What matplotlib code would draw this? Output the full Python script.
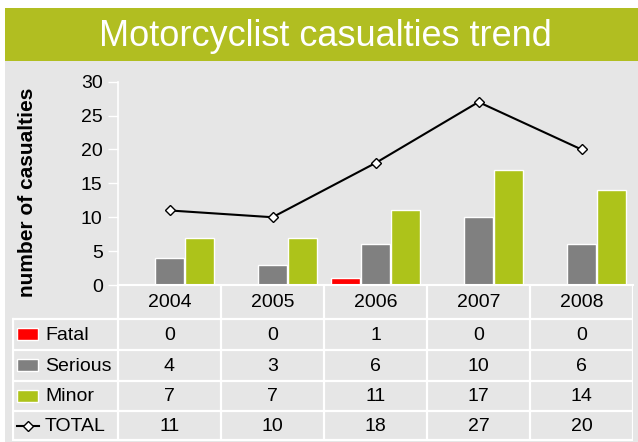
import matplotlib
matplotlib.use("Agg")
import matplotlib.pyplot as plt
from matplotlib.patches import Rectangle
import numpy as np

years = ["2004", "2005", "2006", "2007", "2008"]
fatal = [0, 0, 1, 0, 0]
serious = [4, 3, 6, 10, 6]
minor = [7, 7, 11, 17, 14]
total = [11, 10, 18, 27, 20]
yticks = [0, 5, 10, 15, 20, 25, 30]
title = "Motorcyclist casualties trend"
ylabel = "number of casualties"

W, H = 638, 442
BANNER = "#B1BE21"
PANEL = "#E6E6E6"
RED = "#FF0000"
GRAY = "#808080"
GREEN = "#ADC31A"

plt.rcParams["font.family"] = ["Liberation Sans", "DejaVu Sans"]

fig = plt.figure(figsize=(W / 100, H / 100), dpi=100, facecolor="white")


def box(x0, y0, x1, y1):
    return [x0 / W, 1 - y1 / H, (x1 - x0) / W, (y1 - y0) / H]


# background banner and panel
bg = fig.add_axes([0, 0, 1, 1])
bg.set_xlim(0, W)
bg.set_ylim(H, 0)
bg.axis("off")
bg.add_patch(Rectangle((5, 8), W - 5, 53, color=BANNER, lw=0))
bg.add_patch(Rectangle((5, 61), W - 5, H - 61, color=PANEL, lw=0))
bg.text(325, 36, title, color="white", fontsize=26, ha="center", va="center")
bg.text(28, 192, ylabel, rotation=90, fontsize=15, fontweight="bold",
        ha="center", va="center")

# main chart
ax = fig.add_axes(box(118, 81.7, 633, 285))
ax.patch.set_alpha(0)
x = np.arange(len(years))
bw = 0.28
off = 0.29
ax.bar(x - off, fatal, bw, color=RED, edgecolor="white", linewidth=1)
ax.bar(x, serious, bw, color=GRAY, edgecolor="white", linewidth=1)
ax.bar(x + off, minor, bw, color=GREEN, edgecolor="white", linewidth=1)
ax.plot(x, total, color="black", lw=1.5, marker="D", markersize=5.5,
        markerfacecolor="white", markeredgecolor="black", markeredgewidth=1, zorder=5)
ax.set_xlim(-0.5, len(years) - 0.5)
ax.set_ylim(0, 30)
ax.set_yticks(yticks)
ax.set_xticks([])
ax.tick_params(axis="y", colors="white", length=7, width=1, pad=4, labelsize=14,
               labelcolor="black")
for s in ["top", "right"]:
    ax.spines[s].set_visible(False)
ax.spines["left"].set_color("white")
ax.spines["bottom"].set_color("white")
ax.spines["left"].set_linewidth(1.2)
ax.spines["bottom"].set_linewidth(1.5)

# data table
tx0 = -0.5 - (118 - 12) / 103
tab = fig.add_axes(box(12, 285, 633, 441))
tab.patch.set_alpha(0)
tab.set_xlim(tx0, len(years) - 0.5)
tab.set_ylim(441, 285)
tab.axis("off")

rows = [(319, 350), (350, 381), (381, 411), (411, 440)]
row_names = ["Fatal", "Serious", "Minor", "TOTAL"]
row_vals = [fatal, serious, minor, total]
row_cols = [RED, GRAY, GREEN, None]

lw = 1.6
for yl in [319, 350, 381, 411, 440]:
    tab.plot([tx0, len(years) - 0.5], [yl, yl], color="white", lw=lw, solid_capstyle="butt")
for i in range(len(years) + 1):
    tab.plot([i - 0.5, i - 0.5], [285, 440], color="white", lw=lw, solid_capstyle="butt")
tab.plot([tx0 + 0.01, tx0 + 0.01], [319, 440], color="white", lw=lw)

for i, yr in enumerate(years):
    tab.text(i, 302.5, yr, ha="center", va="center", fontsize=14)

px = 1 / 103
for (y0, y1), name, vals, col in zip(rows, row_names, row_vals, row_cols):
    yc = (y0 + y1) / 2
    for i, v in enumerate(vals):
        tab.text(i, yc + 0.5, str(v), ha="center", va="center", fontsize=14)
    if col is not None:
        tab.add_patch(Rectangle((tx0 + 5 * px, yc - 6.5), 21 * px, 12, facecolor=col,
                                edgecolor="white", lw=1))
    else:
        tab.plot([tx0 + 5 * px, tx0 + 27 * px], [yc, yc], color="black", lw=1.5)
        tab.plot([tx0 + 16 * px], [yc], marker="D", markersize=5.5, markerfacecolor="white",
                 markeredgecolor="black", markeredgewidth=1, color="black")
    tab.text(tx0 + 33 * px, yc + 0.5, name, ha="left", va="center", fontsize=14)

fig.savefig("out.png", dpi=100, facecolor="white")
